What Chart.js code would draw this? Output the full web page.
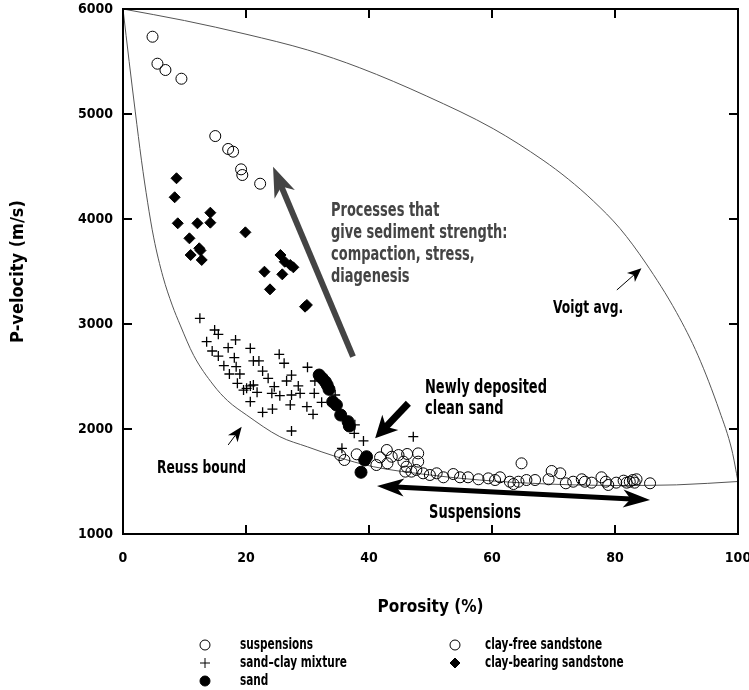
<!DOCTYPE html>
<html>
<head>
<meta charset="utf-8">
<title>P-velocity vs porosity</title>
<script src="https://cdn.jsdelivr.net/npm/chart.js@4.4.0/dist/chart.umd.min.js"></script>
<style>
  html, body { margin: 0; padding: 0; background: #fff; }
</style>
</head>
<body>
<canvas id="grafico" width="749" height="690"></canvas>
<script>
// datos: [porosidad %, velocidad P m/s]
const suspensions = [
  [35.3,1752],[36.0,1705],[38.0,1759],[41.2,1657],[41.8,1730],[42.9,1800],[43.0,1673],
  [43.7,1736],[44.8,1752],[45.6,1689],[46.2,1762],[46.1,1641],[48.0,1768],[48.0,1689],
  [45.9,1594],[46.9,1594],[47.7,1610],[48.8,1578],[49.9,1562],[51.0,1578],[52.1,1540],
  [53.7,1571],[54.8,1540],[56.1,1540],[57.8,1521],[59.4,1530],[60.5,1514],[61.3,1540],
  [62.9,1498],[63.5,1476],[64.3,1498],[64.8,1673],[65.6,1514],[67.0,1514],[69.2,1521],
  [69.7,1600],[71.1,1578],[72.0,1483],[73.2,1498],[74.6,1521],[75.1,1498],[76.2,1489],
  [77.8,1540],[78.5,1498],[78.9,1467],[80.2,1489],[81.4,1508],[81.9,1489],[82.4,1498],
  [82.9,1514],[83.2,1489],[83.5,1521],[85.7,1483]
];
const sandClayMixture = [
  [12.5,3054],[14.9,2943],[15.5,2902],[13.6,2832],[18.3,2848],[17.1,2775],[20.7,2768],
  [14.5,2743],[15.5,2695],[18.1,2679],[25.4,2711],[21.2,2648],[22.1,2648],[26.2,2626],
  [16.4,2603],[18.4,2594],[30.0,2588],[17.3,2524],[19.0,2524],[22.7,2552],[27.4,2514],
  [23.6,2483],[18.6,2435],[26.6,2457],[31.2,2457],[20.7,2410],[21.2,2419],[24.6,2403],
  [28.5,2410],[19.6,2371],[20.1,2387],[21.8,2349],[24.2,2340],[25.5,2317],[27.4,2324],
  [28.8,2340],[31.1,2340],[34.5,2324],[20.7,2260],[27.2,2229],[29.9,2213],[32.3,2254],
  [24.3,2190],[22.7,2159],[30.9,2140],[27.4,1981],[37.7,2040],[37.6,1959],[39.1,1886],
  [35.6,1816],[47.2,1927]
];
const sand = [
  [31.9,2514],[32.4,2483],[32.9,2450],[33.2,2419],[33.5,2378],[34.1,2260],[34.7,2229],
  [35.4,2133],[36.6,2070],[36.8,2029],[39.6,1736],[39.3,1705],[38.7,1588]
];
const clayFreeSandstone = [
  [4.8,5736],[5.6,5479],[6.9,5419],[9.5,5336],[15.0,4790],[17.1,4667],[17.9,4641],
  [19.2,4473],[19.4,4419],[22.3,4336]
];
const clayBearingSandstone = [
  [8.7,4388],[8.4,4207],[8.9,3959],[14.2,4060],[14.2,3965],[12.1,3959],[10.8,3816],
  [12.4,3721],[12.6,3700],[11.0,3657],[12.8,3610],[19.9,3873],[25.6,3657],[26.3,3593],
  [27.2,3562],[27.7,3540],[23.0,3498],[25.9,3473],[23.9,3330],[29.6,3165],[29.9,3181]
];
const reussBound = [
  [0,6000],[1,5500],[2,5020],[3,4560],[4,4160],[5,3820],[6.5,3450],[8,3180],[9.3,2990],
  [11.5,2700],[14.7,2419],[17,2270],[20.1,2133],[25.5,1927],[30,1830],[34.7,1736],
  [40.7,1641],[49.9,1562],[58,1514],[68.9,1476],[80,1462],[90,1468],[100,1500]
];
const voigtAvg = [
  [0,6000],[10,5890],[20,5760],[30,5610],[38.5,5440],[49.4,5170],[60.2,4860],[68.3,4560],
  [72.4,4380],[76.5,4170],[80.8,3910],[85,3580],[90,3110],[93.5,2700],[97,2170],[99,1800],[100,1500]
];
const xTicks = [0, 20, 40, 60, 80, 100];
const yTicks = [1000, 2000, 3000, 4000, 5000, 6000];

const FUENTE = "'Liberation Sans Narrow', 'DejaVu Sans Condensed', 'Arial Narrow', sans-serif";

// texto estrechado a mano, la fuente condensada de la figura no esta instalada
function texto(ctx, t, x, y, align, size, color, escala) {
  ctx.save();
  ctx.font = 'bold ' + size + 'px ' + FUENTE;
  ctx.fillStyle = color;
  ctx.textAlign = align;
  ctx.translate(x, y);
  ctx.scale(escala || 0.76, 1);
  ctx.fillText(t, 0, 0);
  ctx.restore();
}

function flecha(ctx, x1, y1, x2, y2, grosor, largo, medio, color, doble) {
  const ang = Math.atan2(y2 - y1, x2 - x1);
  const c = Math.cos(ang), s = Math.sin(ang);
  const punta = (px, py, dc, ds) => {
    const bx = px - largo * dc, by = py - largo * ds;
    const nx = px - largo * 0.72 * dc, ny = py - largo * 0.72 * ds;
    ctx.beginPath();
    ctx.moveTo(px, py);
    ctx.lineTo(bx - medio * ds, by + medio * dc);
    ctx.lineTo(nx, ny);
    ctx.lineTo(bx + medio * ds, by - medio * dc);
    ctx.closePath();
    ctx.fill();
  };
  ctx.strokeStyle = color;
  ctx.fillStyle = color;
  ctx.lineWidth = grosor;
  ctx.lineCap = 'butt';
  const ini = doble ? largo * 0.7 : 0;
  ctx.beginPath();
  ctx.moveTo(x1 + ini * c, y1 + ini * s);
  ctx.lineTo(x2 - largo * 0.7 * c, y2 - largo * 0.7 * s);
  ctx.stroke();
  punta(x2, y2, c, s);
  if (doble) punta(x1, y1, -c, -s);
}

const marcoYNotas = {
  id: 'marcoYNotas',
  afterDraw(chart) {
    const {ctx, chartArea: a, scales: {x, y}} = chart;
    const X = v => x.getPixelForValue(v), Y = v => y.getPixelForValue(v);
    ctx.save();

    // marco con marcas hacia dentro
    ctx.strokeStyle = '#000';
    ctx.lineWidth = 2;
    ctx.strokeRect(a.left, a.top, a.right - a.left, a.bottom - a.top);
    const L = 9;
    ctx.beginPath();
    xTicks.forEach(v => {
      const p = X(v);
      ctx.moveTo(p, a.bottom); ctx.lineTo(p, a.bottom - L);
      ctx.moveTo(p, a.top); ctx.lineTo(p, a.top + L);
    });
    yTicks.forEach(v => {
      const p = Y(v);
      ctx.moveTo(a.left, p); ctx.lineTo(a.left + L, p);
      ctx.moveTo(a.right, p); ctx.lineTo(a.right - L, p);
    });
    ctx.stroke();

    // flechas
    flecha(ctx, X(37.4), Y(2689), X(24.4), Y(4498), 6, 30, 11, '#444');
    flecha(ctx, X(46.4), Y(2245), X(41.0), Y(1911), 7, 22, 11, '#000');
    flecha(ctx, X(41.3), Y(1457), X(85.7), Y(1324), 5, 27, 9, '#000', true);
    flecha(ctx, X(80.3), Y(3324), X(84.3), Y(3530), 1, 14, 6, '#000');
    flecha(ctx, X(17.1), Y(1848), X(19.3), Y(2022), 1, 15, 6, '#000');

    // textos
    ctx.textBaseline = 'alphabetic';
    ['Processes that', 'give sediment strength:', 'compaction, stress,', 'diagenesis']
      .forEach((t, i) => texto(ctx, t, 331, 216 + i * 22, 'left', 19, '#444'));
    texto(ctx, 'Newly deposited', 425, 393, 'left', 19, '#000');
    texto(ctx, 'clean sand', 425, 414, 'left', 19, '#000');
    texto(ctx, 'Suspensions', 475, 518, 'center', 19, '#000');
    texto(ctx, 'Voigt avg.', 553, 313, 'left', 18, '#000');
    texto(ctx, 'Reuss bound', 157, 473, 'left', 18, '#000');

    // leyenda
    const filas = [
      ['suspensions', 'circle', false, 205, 240, 645],
      ['sand\u2013clay mixture', 'cross', false, 205, 240, 663],
      ['sand', 'circle', true, 205, 240, 681],
      ['clay-free sandstone', 'circle', false, 455, 485, 645],
      ['clay-bearing sandstone', 'rectRot', true, 455, 485, 663]
    ];
    ctx.textBaseline = 'middle';
    filas.forEach(([t, estilo, lleno, mx, tx, ty]) => {
      ctx.fillStyle = lleno ? '#000' : '#fff';
      ctx.strokeStyle = '#000';
      ctx.lineWidth = 1;
      Chart.helpers.drawPoint(ctx, {pointStyle: estilo, radius: 5, rotation: 0, borderWidth: 1}, mx, ty);
      texto(ctx, t, tx, ty, 'left', 15, '#000', 0.78);
    });
    ctx.restore();
  }
};

const abierto = {backgroundColor: 'rgba(0,0,0,0)', borderColor: '#000', borderWidth: 1, pointStyle: 'circle', pointRadius: 5.5};
const sinComas = v => String(v);

new Chart(document.getElementById('grafico'), {
  type: 'scatter',
  data: {
    datasets: [
      Object.assign({label: 'suspensions', data: suspensions}, abierto),
      Object.assign({label: 'clay-free sandstone', data: clayFreeSandstone}, abierto),
      {label: 'sand', data: sand, pointStyle: 'circle', pointRadius: 6, backgroundColor: '#000', borderColor: '#000', borderWidth: 1},
      {label: 'sand\u2013clay mixture', data: sandClayMixture, pointStyle: 'cross', pointRadius: 5, borderColor: '#000', borderWidth: 1.3},
      {label: 'clay-bearing sandstone', data: clayBearingSandstone, pointStyle: 'rectRot', pointRadius: 5.5, backgroundColor: '#000', borderColor: '#000', borderWidth: 1},
      {label: 'Reuss bound', data: reussBound, type: 'line', showLine: true, pointRadius: 0, borderColor: '#555', borderWidth: 1, cubicInterpolationMode: 'monotone', fill: false},
      {label: 'Voigt avg.', data: voigtAvg, type: 'line', showLine: true, pointRadius: 0, borderColor: '#555', borderWidth: 1, cubicInterpolationMode: 'monotone', fill: false}
    ]
  },
  options: {
    responsive: false,
    devicePixelRatio: 1,
    animation: false,
    layout: {padding: {left: 0, right: 11, top: 9, bottom: 70}},
    plugins: {legend: {display: false}, tooltip: {enabled: false}},
    scales: {
      x: {
        type: 'linear', min: 0, max: 100,
        afterFit: s => { s.height = 86; s.paddingLeft = 0; s.paddingRight = 0; },
        grid: {display: false, drawTicks: false},
        border: {display: false},
        ticks: {stepSize: 20, padding: 16, color: '#000', callback: sinComas,
                font: {family: FUENTE, size: 14, weight: 'bold'}},
        title: {display: true, text: 'Porosity (%)', color: '#000', padding: {top: 0, bottom: 2},
                font: {family: FUENTE, size: 17, weight: 'bold'}}
      },
      y: {
        type: 'linear', min: 1000, max: 6000,
        afterFit: s => { s.width = 123; s.paddingTop = 0; s.paddingBottom = 0; },
        grid: {display: false, drawTicks: false},
        border: {display: false},
        ticks: {stepSize: 1000, padding: 10, color: '#000', callback: sinComas,
                font: {family: FUENTE, size: 14, weight: 'bold'}},
        title: {display: true, text: 'P-velocity (m/s)', color: '#000', padding: {top: 8, bottom: 0},
                font: {family: FUENTE, size: 18, weight: 'bold'}}
      }
    }
  },
  plugins: [marcoYNotas]
});
</script>
</body>
</html>
